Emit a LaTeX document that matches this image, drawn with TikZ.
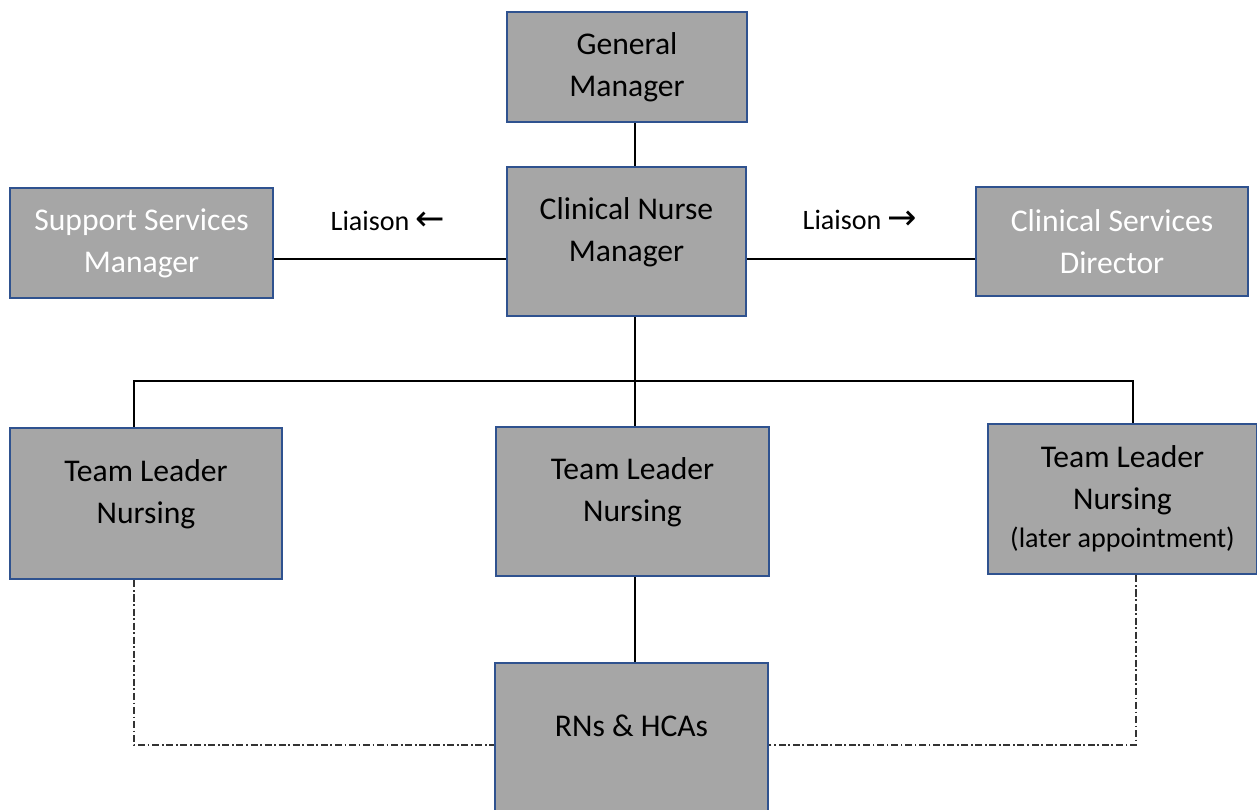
\documentclass[tikz,border=0pt]{standalone}
\usepackage{fontspec}
\setmainfont{Carlito}
\newfontfamily\arrowfont{DejaVu Sans}
\usetikzlibrary{calc}
\definecolor{boxblue}{HTML}{2F528F}
\definecolor{boxgray}{HTML}{A6A6A6}
\tikzstyle{postbox} = [draw=boxblue, fill=boxgray, line width=1.6pt, align=center, inner sep=0pt, font=\fontsize{18}{23.8}\selectfont]
\tikzstyle{lift} = [text depth=14pt]
\tikzstyle{link} = [line width=0.8pt, black]
\tikzstyle{dotlink} = [line width=0.9pt, black!80, dash pattern=on 4pt off 1.5pt on 1pt off 1.5pt]
\tikzstyle{liaison} = [font=\fontsize{16}{20}\selectfont]
\newcommand{\orgbox}[6]{
\node[postbox, minimum width=#3*0.02cm, minimum height=#4*0.02cm, #6] (#1) at (#2) {#5};
}

\begin{document}
\begin{tikzpicture}[x=0.02cm, y=-0.02cm]
		\useasboundingbox (0,0) rectangle (1257,809);
		
		% Coordinates
		\coordinate (spine) at (635,0);
		\coordinate (lia) at (0,259);
		\coordinate (busL) at (134,381);
		\coordinate (busR) at (1133,381);
		\coordinate (dotL) at (134,745);
		\coordinate (dotR) at (1136,745);
		
		% Boxes
		\orgbox{gm}{627,67}{240}{110}{General\\Manager}{}
		\orgbox{cnm}{626.5,241.5}{239}{149}{Clinical Nurse\\Manager}{lift}
		\orgbox{ssm}{141.5,243}{263}{110}{Support Services\\Manager}{text=white}
		\orgbox{csd}{1112,241.5}{272}{109}{Clinical Services\\Director}{text=white}
		\orgbox{tl1}{146,503.5}{272}{151}{Team Leader\\Nursing}{lift}
		\orgbox{tl2}{632.5,501.5}{273}{149}{Team Leader\\Nursing}{lift}
		\orgbox{tl3}{1122.5,499}{269}{150}{Team Leader\\Nursing\\[-2pt]{\fontsize{16}{20}\selectfont (later appointment)}}{}
		\orgbox{rn}{631.5,743}{273}{160}{}{}
		\node[font=\fontsize{18}{23.8}\selectfont] (rntext) at ($(rn.north)+(0,64)$) {RNs \& HCAs};
		
		% Liaison
		\node[liaison] (lialeft) at (388,221) {Liaison {\arrowfont\fontsize{20}{20}\selectfont ←}};
		\node[liaison] (liaright) at (860,220) {Liaison {\arrowfont\fontsize{20}{20}\selectfont →}};
		\draw[link] (ssm.east |- lia) -- (cnm.west |- lia);
		\draw[link] (cnm.east |- lia) -- (csd.west |- lia);
		
		% Lines
		\draw[link] (spine |- gm.south) -- (spine |- cnm.north);
		\draw[link] (spine |- cnm.south) -- (spine |- tl2.north);
		\draw[link] (busL |- tl1.north) -- (busL) -- (busR) -- (busR |- tl3.north);
		\draw[link] (spine |- tl2.south) -- (spine |- rn.north);
		
		% Dotted lines
		\draw[dotlink] (dotL |- tl1.south) -- (dotL) -- (rn.west |- dotL);
		\draw[dotlink] (dotR |- tl3.south) -- (dotR) -- (rn.east |- dotR);
	\end{tikzpicture}
\end{document}
